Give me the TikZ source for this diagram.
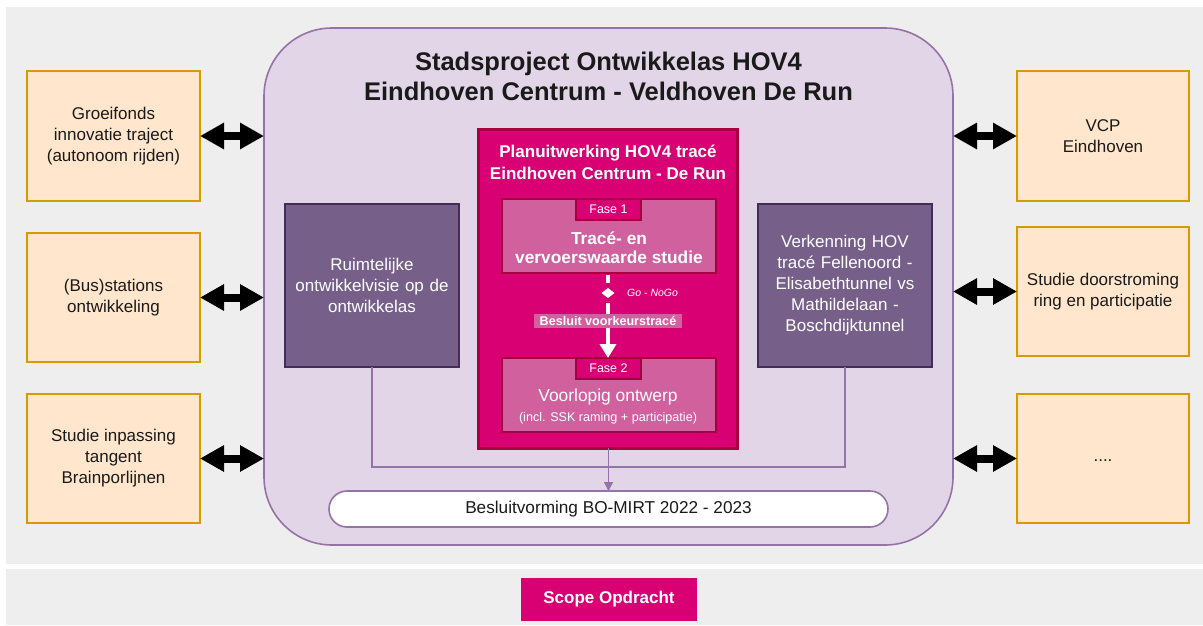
\documentclass[tikz,border=0pt]{standalone}
\usepackage{fontspec}
\setmainfont{Liberation Sans}
\usetikzlibrary{arrows.meta,shapes.geometric}
\definecolor{bggray}{HTML}{EEEEEE}
\definecolor{orfill}{HTML}{FFE6CC}
\definecolor{ordraw}{HTML}{D79B00}
\definecolor{lpfill}{HTML}{E1D5E7}
\definecolor{lpdraw}{HTML}{9673A6}
\definecolor{dpfill}{HTML}{76608A}
\definecolor{dpdraw}{HTML}{432D57}
\definecolor{pkfill}{HTML}{D80073}
\definecolor{pkdraw}{HTML}{A50040}
\definecolor{fsfill}{HTML}{D0609E}
\definecolor{txt}{HTML}{1A1A1A}
\tikzset{
  orbox/.style={draw=ordraw, fill=orfill, line width=2pt, minimum width=173pt, minimum height=129pt, align=center, text=txt, font=\fontsize{17}{21}\selectfont, inner sep=2pt, outer sep=0pt},
  dpbox/.style={draw=dpdraw, fill=dpfill, line width=1.5pt, minimum width=174pt, minimum height=163pt, align=center, text=white, font=\fontsize{17}{21}\selectfont, inner sep=2pt, outer sep=0pt, text width=170pt},
  fasebox/.style={draw=pkdraw, fill=fsfill, line width=1.2pt, minimum width=214pt, minimum height=74pt, outer sep=0pt},
  tab/.style={draw=pkdraw, fill=pkfill, line width=1.2pt, minimum width=65pt, minimum height=21pt, text=white, font=\fontsize{12.5}{14}\selectfont, inner sep=0pt, outer sep=0pt},
  dbl/.style={black, line width=8pt, {Triangle[length=24pt,width=25pt]}-{Triangle[length=24pt,width=25pt]}},
  conn/.style={draw=lpdraw, line width=1.6pt},
  wline/.style={white, line width=4pt},
}
\begin{document}
\begin{tikzpicture}[x=1pt,y=-1pt]
\useasboundingbox (0,0) rectangle (1203,625);
\fill[white] (0,0) rectangle (1203,625);
\fill[bggray] (6,7) rectangle (1203,564);
\fill[bggray] (6,569) rectangle (1203,625);

% main rounded container
\node[draw=lpdraw, fill=lpfill, line width=1.6pt, rounded corners=68pt, minimum width=689pt, minimum height=517pt, outer sep=0pt] (big) at (608.5,286.5) {};
\node[font=\fontsize{25.5}{30}\selectfont\bfseries, text=txt, align=center, inner sep=0pt] (title) at (608.5,76) {Stadsproject Ontwikkelas HOV4\\Eindhoven Centrum - Veldhoven De Run};

% left boxes
\node[orbox, minimum height=130pt] (g1) at (113.5,136) {Groeifonds\\innovatie traject\\(autonoom rijden)};
\node[orbox] (g2) at (113.5,297.5) {(Bus)stations\\ontwikkeling};
\node[orbox] (g3) at (113.5,458.5) {Studie inpassing\\tangent\\Brainporlijnen};
% right boxes
\node[orbox, minimum width=172pt, minimum height=130pt] (v1) at (1103,136) {VCP\\Eindhoven};
\node[orbox, minimum width=172pt] (v2) at (1103,291.5) {Studie doorstroming\\ring en participatie};
\node[orbox, minimum width=172pt] (v3) at (1103,458.5) {\raisebox{-5pt}{....}};

% double arrows
\draw[dbl] (g1.east) -- (g1.east -| big.west);
\draw[dbl] (g2.east) -- (g2.east -| big.west);
\draw[dbl] (g3.east) -- (g3.east -| big.west);
\draw[dbl] (v1.west) -- (v1.west -| big.east);
\draw[dbl] (v2.west) -- (v2.west -| big.east);
\draw[dbl] (v3.west) -- (v3.west -| big.east);

% purple side boxes
\node[dpbox] (lp) at (372,285.5) {Ruimtelijke\\ontwikkelvisie op de\\ontwikkelas};
\node[dpbox] (rp) at (845,285.5) {Verkenning HOV\\tracé Fellenoord -\\Elisabethtunnel vs\\Mathildelaan -\\Boschdijktunnel};

% pink central box
\node[draw=pkdraw, fill=pkfill, line width=3pt, minimum width=259pt, minimum height=319pt, outer sep=0pt] (pk) at (607.5,288.5) {};
\node[text=white, font=\fontsize{17}{22}\selectfont\bfseries, align=center, inner sep=0pt] (pkt) at (608,162) {Planuitwerking HOV4 tracé\\Eindhoven Centrum - De Run};

\node[fasebox] (f1) at (609,236) {};
\node[tab] (t1) at (608.5,209.5) {Fase 1};
\node[text=white, font=\fontsize{17.3}{19}\selectfont\bfseries, align=center, inner sep=0pt] (f1t) at (609,248) {Tracé- en\\vervoerswaarde studie};

\node[fasebox] (f2) at (609,395) {};
\node[tab] (t2) at (608.5,368.5) {Fase 2};
\node[text=white, font=\fontsize{17.4}{19}\selectfont, inner sep=0pt] (f2t) at (608,397) {Voorlopig ontwerp};
\node[text=white, font=\fontsize{12.6}{14}\selectfont, inner sep=0pt] (f2s) at (608,418) {(incl. SSK raming + participatie)};

% go-nogo
\node[diamond, fill=white, minimum width=13pt, minimum height=10pt, inner sep=0pt, outer sep=0pt] (dia) at (608,293) {};
\node[text=white, font=\fontsize{10.5}{12}\selectfont\itshape, anchor=west, inner sep=0pt] (gng) at (627,293) {Go - NoGo};
\node[fill=fsfill, text=white, font=\fontsize{12.6}{14}\selectfont\bfseries, minimum width=148pt, minimum height=14pt, inner sep=0pt, outer sep=0pt] (bl) at (608,321) {Besluit voorkeurstracé};
\draw[wline, shorten <=2pt, shorten >=5pt] (f1.south -| dia) -- (dia);
\draw[wline, shorten <=5pt] (dia) -- (bl.north -| dia);
\draw[wline, -{Triangle[length=14pt,width=16pt]}] (bl.south -| dia) -- (f2.north -| dia);

% connectors to pill
\node[draw=lpdraw, fill=white, line width=1.6pt, rounded corners=18pt, minimum width=559pt, minimum height=36pt, outer sep=0pt, text=txt, font=\fontsize{17.2}{20}\selectfont] (pill) at (608.5,509) {Besluitvorming BO-MIRT 2022 - 2023};
\coordinate (jl) at (lp.south |- 0,467);
\coordinate (jr) at (rp.south |- 0,467);
\draw[conn] (lp.south) -- (jl) -- (jr) -- (rp.south);
\draw[conn, -{Triangle[length=9pt,width=9pt]}] (pk.south -| pill.north) -- (pill.north);

% scope
\node[fill=pkfill, text=white, font=\fontsize{17}{20}\selectfont\bfseries, minimum width=176pt, minimum height=43pt, outer sep=0pt] (scope) at (609,599.5) {Scope Opdracht};
\end{tikzpicture}
\end{document}
